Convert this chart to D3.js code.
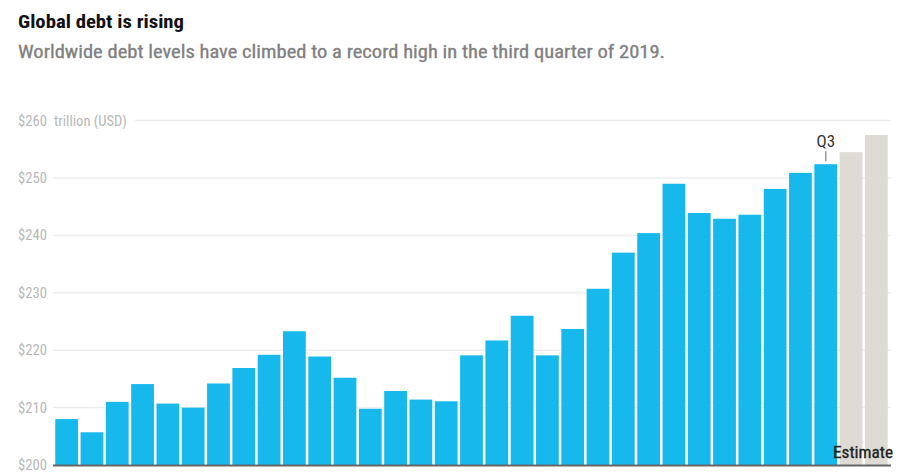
<!DOCTYPE html>
<html><head><meta charset="utf-8">
<script src="https://cdn.jsdelivr.net/npm/d3@7"></script>
<style>
body{margin:0;background:#fff;}
svg{display:block;}
</style></head>
<body>
<svg id="chart" width="900" height="476"></svg>
<script>
const quarters = ["2012Q1","2012Q2","2012Q3","2012Q4","2013Q1","2013Q2","2013Q3","2013Q4","2014Q1","2014Q2","2014Q3","2014Q4","2015Q1","2015Q2","2015Q3","2015Q4","2016Q1","2016Q2","2016Q3","2016Q4","2017Q1","2017Q2","2017Q3","2017Q4","2018Q1","2018Q2","2018Q3","2018Q4","2019Q1","2019Q2","2019Q3","2019Q4","2020Q1"];
const debt = [208.0,205.7,211.0,214.1,210.7,210.0,214.2,216.9,219.2,223.3,218.9,215.2,209.8,212.9,211.4,211.1,219.1,221.7,226.0,219.1,223.7,230.7,237.0,240.4,249.0,243.9,242.9,243.6,248.1,250.9,252.4,254.5,257.5];
const isEstimate = [0,0,0,0,0,0,0,0,0,0,0,0,0,0,0,0,0,0,0,0,0,0,0,0,0,0,0,0,0,0,0,1,1];
const yTicks = [200,210,220,230,240,250,260];
const title = "Global debt is rising";
const subtitle = "Worldwide debt levels have climbed to a record high in the third quarter of 2019.";

const svg = d3.select("#chart");
const font = '"Roboto Condensed","Liberation Sans Narrow","DejaVu Sans Condensed","Roboto",sans-serif';

svg.append("text").attr("x",18).attr("y",28).attr("font-family",font)
  .attr("font-weight","bold").attr("font-size",19).attr("fill","#111")
  .attr("textLength",166).attr("lengthAdjust","spacingAndGlyphs").text(title);
svg.append("text").attr("x",18).attr("y",58).attr("font-family",font)
  .attr("font-size",18).attr("fill","#808080").attr("stroke","#808080").attr("stroke-width",0.3)
  .attr("textLength",647).attr("lengthAdjust","spacingAndGlyphs").text(subtitle);

const x = d3.scaleBand().domain(quarters).range([54,889]).paddingInner(0.1).paddingOuter(0.05);
const y = d3.scaleLinear().domain([200,260]).range([465,120.6]);

// gridlines
svg.append("g").selectAll("line").data(yTicks.filter(d=>d>200)).join("line")
  .attr("x1",d=>d===260?135:53).attr("x2",891)
  .attr("y1",d=>y(d)).attr("y2",d=>y(d))
  .attr("stroke","#eeeeee").attr("stroke-width",1.5);

// y labels
svg.append("g").selectAll("text").data(yTicks).join("text")
  .attr("x",18).attr("y",d=>y(d)).attr("dy","0.35em")
  .attr("font-family",font).attr("font-size",14).attr("fill","#b8b8b8")
  .attr("textLength",29).attr("lengthAdjust","spacingAndGlyphs")
  .text(d=>"$"+d);
svg.append("text").attr("x",54).attr("y",y(260)).attr("dy","0.35em")
  .attr("font-family",font).attr("font-size",14).attr("fill","#b8b8b8")
  .attr("textLength",73).attr("lengthAdjust","spacingAndGlyphs").text("trillion (USD)");

// bars
svg.append("g").selectAll("rect").data(quarters).join("rect")
  .attr("x",d=>x(d)).attr("width",x.bandwidth())
  .attr("y",(d,i)=>y(debt[i])).attr("height",(d,i)=>y(200)-y(debt[i]))
  .attr("fill",(d,i)=>isEstimate[i]?"#dedbd5":"#17b9ec");

// baseline
svg.append("line").attr("x1",53).attr("x2",891).attr("y1",y(200)+0.5).attr("y2",y(200)+0.5)
  .attr("stroke","#666").attr("stroke-width",2);

// Q3 annotation
const q3 = "2019Q3";
const cx = x(q3)+x.bandwidth()/2;
const qi = quarters.indexOf(q3);
svg.append("line").attr("x1",cx).attr("x2",cx).attr("y1",y(debt[qi])-13).attr("y2",y(debt[qi])-3)
  .attr("stroke","#999").attr("stroke-width",1.5);
svg.append("text").attr("x",cx).attr("y",y(debt[qi])-17).attr("text-anchor","middle")
  .attr("font-family",font).attr("font-size",17).attr("fill","#333").text("Q3");

// Estimate label
svg.append("text").attr("x",893).attr("y",458).attr("text-anchor","end")
  .attr("font-family",font).attr("font-size",16).attr("fill","#222").attr("stroke","#222").attr("stroke-width",0.3)
  .attr("textLength",60).attr("lengthAdjust","spacingAndGlyphs").text("Estimate");
</script>
</body></html>
